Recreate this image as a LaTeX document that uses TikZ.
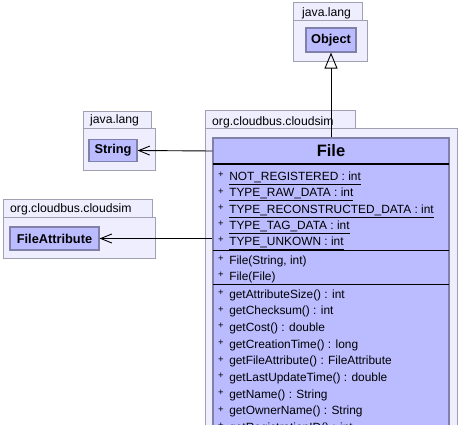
\documentclass[tikz,border=0pt]{standalone}
\usepackage{fontspec}
\setmainfont{Liberation Sans}
\usetikzlibrary{arrows.meta, positioning}
\usepackage{xcolor}

\definecolor{pkgfill}{RGB}{238,238,255}
\definecolor{pkgline}{RGB}{160,160,176}
\definecolor{clsfill}{RGB}{187,187,255}
\definecolor{clsline}{RGB}{128,128,168}

\newcommand{\umlplus}{\raisebox{2.5pt}{\fontsize{9.5}{9}\selectfont+}\hspace{5.5pt}}

\tikzset{
    pkg/.style={draw=pkgline, fill=pkgfill, line width=1pt},
    pkglabel/.style={anchor=base west, inner sep=0pt, font=\fontsize{12.2}{13}\selectfont},
    cls/.style={draw=clsline, fill=clsfill, line width=1.2pt, inner sep=0pt,
        font=\fontsize{12.8}{14}\selectfont\bfseries},
    member/.style={anchor=base west, inner sep=0pt, font=\fontsize{11.9}{13}\selectfont},
    sep/.style={line width=1.2pt},
    uses/.style={-{Straight Barb[length=11pt,width=9pt]}, line width=0.9pt},
    extends/.style={-{Triangle[open,length=16pt,width=13pt]}, line width=0.9pt},
}

\begin{document}
\begin{tikzpicture}[x=1pt, y=-1pt]
    \useasboundingbox (0,0) rectangle (460,425);
    \clip (0,0) rectangle (460,425);

    % packages
    \draw[pkg] (293,3) rectangle (362,21);
    \draw[pkg] (293,21) rectangle (367,62);
    \node[pkglabel] (objpkg) at (302,17) {java.lang};

    \draw[pkg] (83,112) rectangle (151,128);
    \draw[pkg] (83,128) rectangle (155,170);
    \node[pkglabel] (strpkg) at (90,124) {java.lang};

    \draw[pkg] (3,199) rectangle (152,217);
    \draw[pkg] (3,217) rectangle (155,258);
    \node[pkglabel] (attrpkg) at (10,212) {org.cloudbus.cloudsim};

    \draw[pkg] (205,111) rectangle (355,128);
    \draw[pkg] (205,128) rectangle (457,480);
    \node[pkglabel] (filepkg) at (212,125) {org.cloudbus.cloudsim};

    % classes
    \node[cls, minimum width=50pt, minimum height=24pt] (object) at (331,40) {Object};
    \node[cls, minimum width=48pt, minimum height=22pt] (string) at (113,150.5) {String};
    \node[cls, minimum width=89pt, minimum height=23pt] (fileattr) at (54.5,238.5) {FileAttribute};

    \node[cls, font=\normalfont, minimum width=236pt, minimum height=322pt] (fileclass) at (331,299) {};
    \node[inner sep=0pt, font=\fontsize{16.5}{18}\selectfont\bfseries] (file) at (331,151) {File};
    \coordinate (filetop) at (file |- fileclass.north);

    \draw[sep] (213,164) -- (449,164);
    \draw[sep] (213,250.5) -- (449,250.5);
    \draw[sep] (213,284.5) -- (449,284.5);

    % attributes
    \node[member] (a1) at (218,180) {\umlplus\underline{NOT\_REGISTERED : int}};
    \node[member] (a2) at (218,196.5) {\umlplus\underline{TYPE\_RAW\_DATA : int}};
    \node[member] (a3) at (218,213) {\umlplus\underline{TYPE\_RECONSTRUCTED\_DATA : int}};
    \node[member] (a4) at (218,229) {\umlplus\underline{TYPE\_TAG\_DATA : int}};
    \node[member] (a5) at (218,245) {\umlplus\underline{TYPE\_UNKOWN : int}};

    % constructors
    \node[member] (c1) at (218,264) {\umlplus File(String, int)};
    \node[member] (c2) at (218,280) {\umlplus File(File)};

    % methods
    \node[member] (m1) at (218,298) {\umlplus getAttributeSize() : int};
    \node[member] (m2) at (218,314.6) {\umlplus getChecksum() : int};
    \node[member] (m3) at (218,331.3) {\umlplus getCost() : double};
    \node[member] (m4) at (218,348) {\umlplus getCreationTime() : long};
    \node[member] (m5) at (218,364.6) {\umlplus getFileAttribute() : FileAttribute};
    \node[member] (m6) at (218,381.3) {\umlplus getLastUpdateTime() : double};
    \node[member] (m7) at (218,398) {\umlplus getName() : String};
    \node[member] (m8) at (218,414.6) {\umlplus getOwnerName() : String};
    \node[member] (m9) at (218,431.3) {\umlplus getRegistrationID() : int};

    % connectors
    \draw[extends] (filetop) -- (object.south);
    \draw[uses] (fileclass.west |- file) -- (string.east);
    \draw[uses] (fileclass.west |- fileattr) -- (fileattr.east);
\end{tikzpicture}
\end{document}
